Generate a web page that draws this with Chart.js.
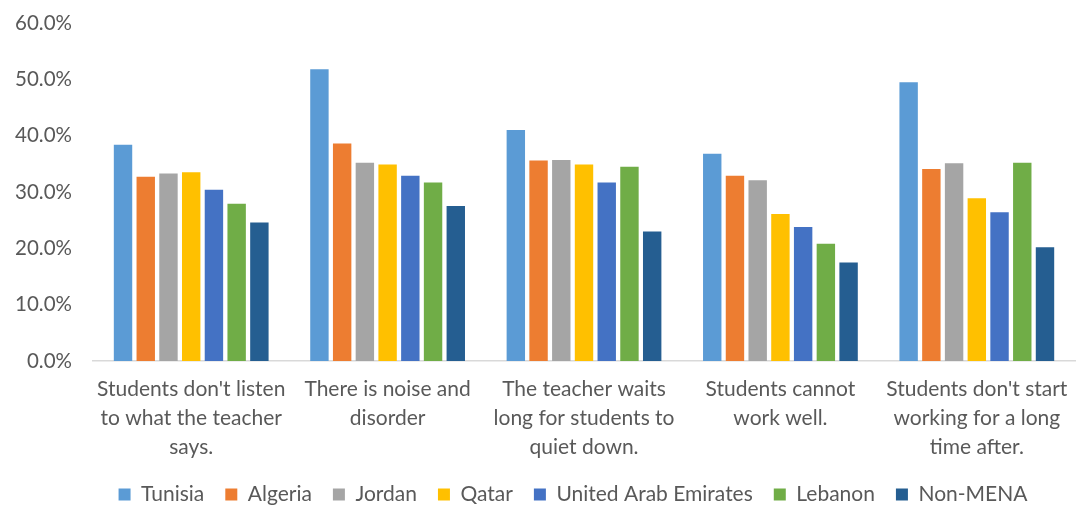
<!DOCTYPE html>
<html>
<head>
<meta charset="utf-8">
<script src="https://cdn.jsdelivr.net/npm/chart.js@4"></script>
<style>
html,body{margin:0;padding:0;background:#fff;}
#wrap{width:1081px;height:506px;position:relative;}
</style>
</head>
<body>
<div id="wrap"><canvas id="c" width="1081" height="506"></canvas></div>
<script>
const categories = [
  ["Students don't listen", "to what the teacher", "says."],
  ["There is noise and", "disorder"],
  ["The teacher waits", "long for students to", "quiet down."],
  ["Students cannot", "work well."],
  ["Students don't start", "working for a long", "time after."]
];
const seriesNames = ["Tunisia", "Algeria", "Jordan", "Qatar", "United Arab Emirates", "Lebanon", "Non-MENA"];
const tunisia  = [38.4, 51.8, 41.0, 36.8, 49.5];
const algeria  = [32.7, 38.6, 35.6, 32.9, 34.1];
const jordan   = [33.3, 35.2, 35.7, 32.1, 35.1];
const qatar    = [33.5, 34.9, 34.9, 26.1, 28.9];
const uae      = [30.4, 32.9, 31.7, 23.8, 26.4];
const lebanon  = [27.9, 31.7, 34.5, 20.8, 35.2];
const nonMena  = [24.6, 27.5, 23.0, 17.5, 20.2];
const yTicks = [0, 10, 20, 30, 40, 50, 60];

const colors = ["#5B9BD5", "#ED7D31", "#A5A5A5", "#FFC000", "#4472C4", "#70AD47", "#255E91"];
const values = [tunisia, algeria, jordan, qatar, uae, lebanon, nonMena];

const FONT = "Lato, 'Open Sans', sans-serif";
const TXT = "#595959";

// Legend in the reference is centred a little right of the canvas centre.
const legendShift = {
  id: 'legendShift',
  afterLayout(chart) {
    const l = chart.legend;
    if (l) { l.left += 33; l.right += 33; }
  }
};

new Chart(document.getElementById('c'), {
  type: 'bar',
  data: {
    labels: categories,
    datasets: seriesNames.map((n, i) => ({
      label: n,
      data: values[i],
      backgroundColor: colors[i],
      borderWidth: 0,
      categoryPercentage: 0.81,
      barPercentage: 0.81
    }))
  },
  plugins: [legendShift],
  options: {
    responsive: false,
    animation: false,
    layout: { padding: { top: 23, right: 1, bottom: -9, left: 0 } },
    plugins: {
      tooltip: { enabled: false },
      legend: {
        position: 'bottom',
        labels: {
          font: { family: FONT, size: 21 },
          color: TXT,
          boxWidth: 12,
          boxHeight: 12,
          padding: 21
        }
      }
    },
    scales: {
      x: {
        grid: { display: false, drawTicks: false },
        border: { display: true, color: '#D9D9D9', width: 1.5 },
        ticks: {
          font: { family: FONT, size: 21, lineHeight: 1.38 },
          color: TXT,
          padding: 13.5,
          maxRotation: 0,
          autoSkip: false
        },
        afterFit: (s) => { s.height = 102; }
      },
      y: {
        min: 0,
        max: 60,
        afterBuildTicks: (s) => { s.ticks = yTicks.map(v => ({ value: v })); },
        grid: { display: false, drawTicks: false },
        border: { display: false },
        ticks: {
          font: { family: FONT, size: 20.5 },
          color: TXT,
          padding: 21,
          callback: (v) => v.toFixed(1) + '%'
        },
        afterFit: (s) => { s.width = 93; s.paddingTop = 0; s.paddingBottom = 0; }
      }
    }
  }
});
</script>
</body>
</html>
